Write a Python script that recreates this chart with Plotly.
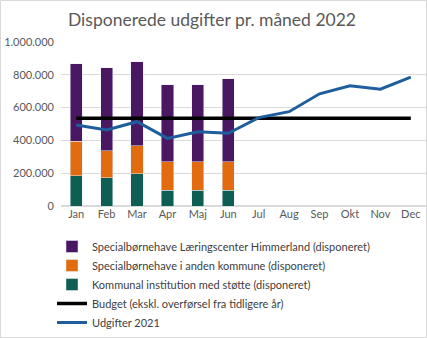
import plotly.graph_objects as go

months = ["Jan", "Feb", "Mar", "Apr", "Maj", "Jun", "Jul", "Aug", "Sep", "Okt", "Nov", "Dec"]
bar_months = months[:6]
kommunal = [184000, 171000, 196000, 96000, 96000, 96000]
anden_kommune = [212000, 166000, 171000, 173000, 173000, 173000]
himmerland = [471000, 506000, 512000, 470000, 470000, 506000]
budget = [535000] * 12
udgifter_2021 = [494000, 463000, 514000, 412000, 453000, 443000, 539000, 575000, 684000, 733000, 712000, 786000]
tick_vals = [0, 200000, 400000, 600000, 800000, 1000000]
tick_text = ["0", "200.000", "400.000", "600.000", "800.000", "1.000.000"]

W, H = 427, 338
L, R, T, B = 61, 1, 42, 132
pw, ph = W - L - R, H - T - B

font = "Lato, Carlito, 'Open Sans', sans-serif"
fig = go.Figure()
fig.add_bar(x=bar_months, y=kommunal, name="Kommunal institution med støtte (disponeret)",
            marker_color="#0F5E54", width=0.4, legendrank=3)
fig.add_bar(x=bar_months, y=anden_kommune, name="Specialbørnehave i anden kommune (disponeret)",
            marker_color="#E26B10", width=0.4, legendrank=2)
fig.add_bar(x=bar_months, y=himmerland, name="Specialbørnehave Læringscenter Himmerland (disponeret)",
            marker_color="#4A1862", width=0.4, legendrank=1)
fig.add_scatter(x=months, y=budget, mode="lines", name="Budget (ekskl. overførsel fra tidligere år)",
                line=dict(color="#000000", width=3.5), legendrank=4)
fig.add_scatter(x=months, y=udgifter_2021, mode="lines", name="Udgifter 2021",
                line=dict(color="#1F5E9C", width=3), legendrank=5)

fig.update_layout(
    width=W, height=H,
    margin=dict(l=L, r=R, t=T, b=B),
    barmode="stack",
    paper_bgcolor="white", plot_bgcolor="white",
    font=dict(family=font, color="#595959", size=11),
    title=dict(text="Disponerede udgifter pr. måned 2022", x=212 / W, xanchor="center",
               y=1 - 20 / H, yanchor="middle",
               font=dict(family=font, size=17.5, color="#595959")),
    xaxis=dict(categoryorder="array", categoryarray=months, range=[-0.5, 11.5],
               showline=False, ticks="", tickfont=dict(size=11, color="#595959")),
    yaxis=dict(range=[0, 1000000], tickvals=tick_vals, ticktext=tick_text,
               showgrid=True, gridcolor="#D9D9D9", gridwidth=1, zeroline=True,
               zerolinecolor="#D9D9D9", ticks="", ticklabelstandoff=6,
               tickfont=dict(size=11, color="#595959")),
    legend=dict(orientation="v", x=-9 / pw, xanchor="left", y=-(B - 1) / ph, yanchor="bottom",
                traceorder="normal", font=dict(size=11, color="#404040"),
                itemwidth=30, tracegroupgap=0, bgcolor="rgba(0,0,0,0)"),
    showlegend=True,
)
fig.add_shape(type="rect", xref="paper", yref="paper",
              x0=-(L - 0.5) / pw, x1=(W - L - 0.5) / pw, y0=-(B - 0.5) / ph, y1=(ph + T - 0.5) / ph,
              line=dict(color="#D9D9D9", width=1), fillcolor="rgba(0,0,0,0)", layer="below")
fig.write_html("out.html")
